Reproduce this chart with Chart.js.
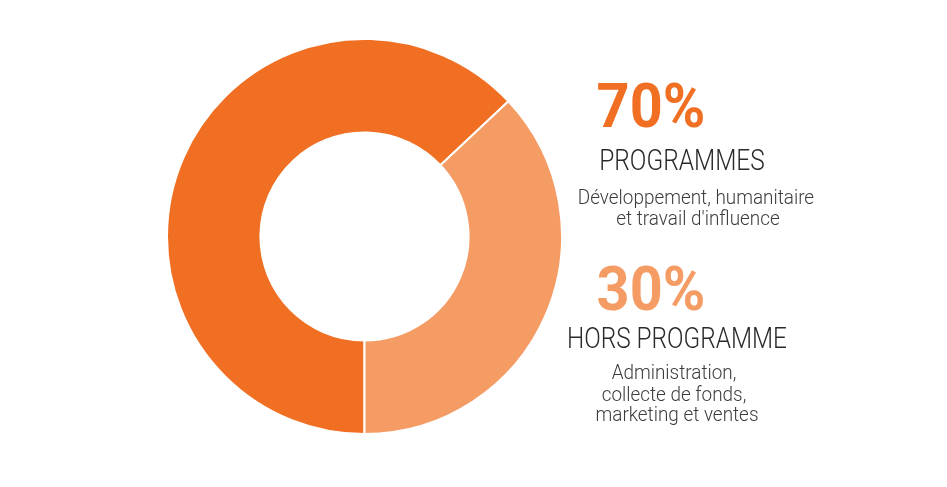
<!DOCTYPE html>
<html>
<head>
<meta charset="utf-8">
<script src="https://cdn.jsdelivr.net/npm/chart.js@4"></script>
<style>
  html, body { margin: 0; padding: 0; background: #fff; }
  body { width: 947px; height: 487px; position: relative; overflow: hidden; font-family: Roboto, "Noto Sans", sans-serif; }
  #donut-wrap { position: absolute; left: 166px; top: 38px; width: 397px; height: 397px; }
  .txt { position: absolute; width: 600px; text-align: center; white-space: nowrap; transform-origin: 50% 50%; }
</style>
</head>
<body>
<div id="donut-wrap"><canvas id="donut"></canvas></div>
<div id="labels"></div>
<script>
// ===== 数据 =====
var sliceLabels = ['Programmes', 'Hors programme'];
// arc shares as drawn in the picture (the headline text says 70 / 30)
var sliceShares = [63, 37];
var sliceColors = ['#F06F22', '#F59C65'];

var headlineValues = ['70%', '30%'];
var headlineTitles = ['PROGRAMMES', 'HORS PROGRAMME'];
var descProgrammes = ['Développement, humanitaire', "et travail d'influence"];
var descHors = ['Administration,', 'collecte de fonds,', 'marketing et ventes'];

// ===== 图表 =====
var donutEl = document.getElementById('donut');
var donutChart = new Chart(donutEl, {
  type: 'doughnut',
  data: {
    labels: sliceLabels,
    datasets: [{
      data: sliceShares,
      backgroundColor: sliceColors,
      borderColor: '#ffffff',
      borderWidth: 2,
      hoverOffset: 0
    }]
  },
  options: {
    responsive: true,
    maintainAspectRatio: false,
    animation: false,
    rotation: 180,
    cutout: '52.7%',
    layout: { padding: 0 },
    plugins: {
      legend: { display: false },
      tooltip: { enabled: false }
    }
  }
});

// ===== 文字 =====
var labelsEl = document.getElementById('labels');

// place a line so that its alphabetic baseline sits at y (Roboto metrics)
function addLine(text, cx, baseline, size, weight, color, scaleX) {
  var d = document.createElement('div');
  d.className = 'txt';
  d.textContent = text;
  d.style.left = (cx - 300) + 'px';
  d.style.top = (baseline - 0.842 * size) + 'px';
  d.style.fontSize = size + 'px';
  d.style.lineHeight = size + 'px';
  d.style.fontWeight = weight;
  d.style.color = color;
  d.style.transform = 'scaleX(' + scaleX + ')';
  labelsEl.appendChild(d);
}

addLine(headlineValues[0], 651, 127, 62, 700, sliceColors[0], 0.93);
addLine(headlineTitles[0], 682, 171, 29.5, 300, '#2a2a2a', 0.83);
addLine(descProgrammes[0], 696, 205, 21, 300, '#3c3c3c', 0.9);
addLine(descProgrammes[1], 698, 226, 21, 300, '#3c3c3c', 0.9);

addLine(headlineValues[1], 651, 310, 62, 700, sliceColors[1], 0.93);
addLine(headlineTitles[1], 677, 348, 29, 300, '#2a2a2a', 0.84);
addLine(descHors[0], 674, 380, 21, 300, '#3c3c3c', 0.9);
addLine(descHors[1], 674, 402, 21, 300, '#3c3c3c', 0.9);
addLine(descHors[2], 677, 422, 21, 300, '#3c3c3c', 0.9);
</script>
</body>
</html>
